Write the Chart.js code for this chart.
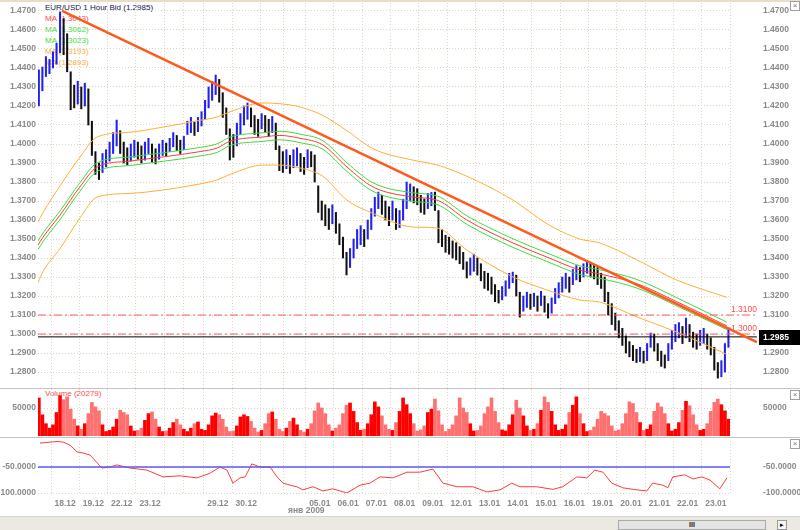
<!DOCTYPE html>
<html>
<head>
<meta charset="utf-8">
<script src="https://cdn.jsdelivr.net/npm/chart.js@4.4.0/dist/chart.umd.min.js"></script>
<style>
  body { margin: 0; background: #fff; }
  #wrap { position: relative; width: 800px; height: 530px; overflow: hidden; font-family: "Liberation Sans", Arial, sans-serif; }
  canvas { position: absolute; left: 0; }
  #main { top: 0; }
  #vol { top: 388px; }
  #osc { top: 437px; }
  #axis { top: 492px; }
  .sep { position: absolute; left: 0; width: 800px; height: 1px; background: #c4c4c4; }
  #legend { position: absolute; left: 45px; top: 2px; font-size: 8px; line-height: 11px; white-space: nowrap; }
  #volLabel { position: absolute; left: 45px; top: 389px; font-size: 8px; color: #ff4a4a; }
  .close { position: absolute; left: 790px; width: 8px; height: 8px; border: 1px solid #a0a0a0; font-size: 8px; line-height: 8px; text-align: center; color: #777; background: #fff; }
  #bottom { position: absolute; left: 0; top: 516px; width: 800px; height: 14px; background: #ebe9e1; border-top: 1px solid #d4d4d4; }
  #track { position: absolute; left: 618px; top: 3px; width: 146px; height: 8px; background: #e4e4e4; border: 1px solid #aaa; font-size: 7px; line-height: 8px; text-align: center; font-weight: bold; color: #222; }
  #btn { position: absolute; left: 777px; top: 3px; width: 8px; height: 8px; border: 1px solid #999; background: #f4f4f4; font-size: 7px; line-height: 8px; text-align: center; }
</style>
</head>
<body>
<div id="wrap">
  <div id="legend">
    <div style="color:#141450">EUR/USD 1 Hour Bid (1.2985)</div>
    <div style="color:#ff4a4a">MA (1.3043)</div>
    <div style="color:#3ddc3d">MA (1.3062)</div>
    <div style="color:#3ddc3d">MA (1.3023)</div>
    <div style="color:#ffad3c">MA (1.3193)</div>
    <div style="color:#ffad3c">MA (1.2893)</div>
  </div>
  <div id="volLabel">Volume (20279)</div>
  <canvas id="main" width="800" height="388"></canvas>
  <canvas id="vol" width="800" height="49"></canvas>
  <canvas id="osc" width="800" height="59"></canvas>
  <canvas id="axis" width="800" height="26"></canvas>
  <div class="sep" style="top:0;height:2px;background:#e6dec6"></div>
  <div class="sep" style="top:388px"></div>
  <div class="sep" style="top:437px"></div>
  <div class="close" style="top:1px">×</div>
  <div class="close" style="top:390px">×</div>
  <div class="close" style="top:439px">×</div>
  <div id="bottom"><div id="track">III</div><div id="btn">▸</div></div>
</div>
<script>
// x is measured in trading-day widths, 0 = start of 18.12
const X_MIN = -0.46, X_MAX = 24;
const barStart = -0.43;
const barStep = 0.125; // 3-hour bars

const barHigh = [
  1.4390,1.4405,1.4460,1.4445,1.4485,1.4530,1.4695,1.4660,
  1.4580,1.4380,1.4310,1.4330,1.4300,1.4320,1.4290,1.4120,
  1.3960,1.3900,1.3950,1.3970,1.4010,1.4060,1.4126,1.4070,
  1.4010,1.3980,1.4000,1.4020,1.4010,1.3990,1.4010,1.4030,
  1.4000,1.3975,1.4000,1.4020,1.4005,1.4030,1.4060,1.4045,
  1.4020,1.4040,1.4120,1.4140,1.4115,1.4140,1.4170,1.4230,
  1.4300,1.4330,1.4363,1.4340,1.4270,1.4190,1.4080,1.4050,
  1.4110,1.4160,1.4200,1.4216,1.4190,1.4150,1.4130,1.4160,
  1.4150,1.4130,1.4145,1.4110,1.3990,1.3960,1.3970,1.3940,
  1.3970,1.3980,1.3950,1.3930,1.3970,1.3960,1.3942,1.3780,
  1.3700,1.3680,1.3660,1.3680,1.3640,1.3580,1.3510,1.3430,
  1.3450,1.3500,1.3550,1.3570,1.3550,1.3600,1.3660,1.3720,
  1.3747,1.3730,1.3700,1.3670,1.3700,1.3660,1.3650,1.3710,
  1.3800,1.3790,1.3775,1.3765,1.3730,1.3710,1.3740,1.3745,
  1.3747,1.3650,1.3550,1.3520,1.3510,1.3490,1.3480,1.3460,
  1.3430,1.3380,1.3400,1.3420,1.3400,1.3370,1.3330,1.3320,
  1.3300,1.3260,1.3230,1.3250,1.3280,1.3320,1.3326,1.3310,
  1.3220,1.3200,1.3220,1.3210,1.3215,1.3200,1.3225,1.3200,
  1.3160,1.3190,1.3240,1.3270,1.3300,1.3320,1.3300,1.3340,
  1.3360,1.3350,1.3370,1.3379,1.3375,1.3365,1.3350,1.3320,
  1.3300,1.3220,1.3160,1.3110,1.3070,1.3030,1.2990,1.2960,
  1.2940,1.2920,1.2930,1.2910,1.2950,1.3005,1.3000,1.2950,
  1.2910,1.2890,1.2950,1.3020,1.3050,1.3060,1.3040,1.3084,
  1.3050,1.3010,1.3000,1.3020,1.3030,1.3000,1.2980,1.2930,
  1.2850,1.2860,1.2950,1.3032
];
const barLow = [
  1.4200,1.4280,1.4355,1.4370,1.4400,1.4420,1.4480,1.4470,
  1.4380,1.4180,1.4190,1.4210,1.4185,1.4200,1.4100,1.3940,
  1.3840,1.3813,1.3850,1.3880,1.3910,1.3950,1.3990,1.3950,
  1.3900,1.3890,1.3910,1.3930,1.3920,1.3900,1.3915,1.3950,
  1.3905,1.3895,1.3920,1.3940,1.3935,1.3960,1.3985,1.3965,
  1.3950,1.3970,1.4050,1.4060,1.4045,1.4065,1.4095,1.4130,
  1.4190,1.4230,1.4260,1.4220,1.4140,1.4050,1.3916,1.3930,
  1.3990,1.4050,1.4100,1.4130,1.4090,1.4050,1.4040,1.4080,
  1.4060,1.4040,1.4060,1.3970,1.3860,1.3850,1.3870,1.3845,
  1.3875,1.3885,1.3855,1.3840,1.3875,1.3880,1.3800,1.3640,
  1.3600,1.3570,1.3550,1.3580,1.3530,1.3470,1.3400,1.3311,
  1.3350,1.3400,1.3450,1.3470,1.3460,1.3500,1.3550,1.3620,
  1.3660,1.3630,1.3600,1.3570,1.3600,1.3550,1.3560,1.3600,
  1.3660,1.3700,1.3690,1.3680,1.3640,1.3630,1.3660,1.3675,
  1.3650,1.3480,1.3460,1.3430,1.3420,1.3400,1.3390,1.3370,
  1.3340,1.3295,1.3310,1.3330,1.3310,1.3280,1.3240,1.3230,
  1.3210,1.3170,1.3163,1.3180,1.3200,1.3240,1.3270,1.3200,
  1.3089,1.3120,1.3140,1.3130,1.3145,1.3120,1.3150,1.3115,
  1.3084,1.3110,1.3160,1.3190,1.3220,1.3240,1.3220,1.3260,
  1.3285,1.3275,1.3300,1.3320,1.3300,1.3290,1.3260,1.3240,
  1.3170,1.3100,1.3050,1.3020,1.2980,1.2940,1.2900,1.2880,
  1.2860,1.2850,1.2855,1.2847,1.2860,1.2930,1.2910,1.2860,
  1.2830,1.2821,1.2860,1.2920,1.2960,1.2980,1.2950,1.2980,
  1.2960,1.2930,1.2920,1.2940,1.2950,1.2920,1.2890,1.2810,
  1.2768,1.2775,1.2800,1.2930
];
const volume = [
  68000,38000,22000,14000,20000,42000,72000,65000,
  70000,48000,30000,18000,12000,22000,40000,60000,
  52000,45000,20000,8000,10000,16000,30000,46000,
  42000,38000,18000,9000,10000,14000,28000,40000,
  43000,30000,16000,8000,9000,14000,24000,30000,
  20000,12000,8000,14000,22000,25000,12000,10000,
  20000,36000,41000,38000,30000,16000,8000,9000,
  18000,34000,38000,35000,26000,14000,7000,10000,
  22000,40000,43000,30000,12000,8000,14000,26000,
  32000,20000,10000,7000,12000,22000,45000,59000,
  50000,40000,20000,9000,14000,20000,40000,55000,
  59000,44000,24000,10000,12000,22000,38000,61000,
  52000,36000,20000,12000,10000,24000,44000,68000,
  56000,40000,22000,9000,11000,18000,42000,48000,
  66000,45000,20000,8000,12000,20000,36000,68000,
  50000,42000,22000,9000,10000,18000,40000,52000,
  68000,44000,24000,11000,9000,20000,38000,64000,
  50000,36000,18000,10000,12000,22000,46000,70000,
  60000,44000,20000,10000,12000,20000,42000,55000,
  70000,40000,22000,8000,10000,16000,30000,44000,
  40000,36000,18000,9000,11000,22000,40000,61000,
  58000,42000,24000,10000,12000,20000,44000,59000,
  52000,40000,22000,9000,12000,24000,46000,62000,
  54000,38000,20000,10000,12000,22000,44000,60000,
  66000,56000,45000,30000
];

// moving average and its envelopes
const maT = [-0.46,-0.28,0.32,1.02,1.63,2.79,3.96,5.27,5.87,6.33,7.49,8.09,8.80,9.61,10.46,11.38,12.79,13.64,14.70,16.33,17.53,18.69,19.40,20.71,22.12,23.89];
const maMid = [1.3468,1.3510,1.3626,1.3774,1.3879,1.3910,1.3932,1.3960,1.3979,1.4015,1.4037,1.4045,1.4030,1.3995,1.3879,1.3774,1.3721,1.3705,1.3600,1.3479,1.3405,1.3337,1.3316,1.3265,1.3170,1.3043];
const maGreenHi = [1.3490,1.3532,1.3648,1.3796,1.3901,1.3932,1.3954,1.3982,1.4001,1.4037,1.4059,1.4067,1.4052,1.4017,1.3901,1.3796,1.3743,1.3727,1.3622,1.3501,1.3427,1.3359,1.3338,1.3287,1.3191,1.3062];
const maGreenLo = [1.3445,1.3487,1.3603,1.3751,1.3856,1.3887,1.3909,1.3937,1.3956,1.3992,1.4014,1.4022,1.4007,1.3972,1.3856,1.3751,1.3698,1.3682,1.3577,1.3456,1.3382,1.3314,1.3293,1.3242,1.3148,1.3023];
const maOrangeHi = [1.3590,1.3640,1.3780,1.3930,1.4037,1.4062,1.4089,1.4125,1.4142,1.4170,1.4216,1.4212,1.4195,1.4150,1.4070,1.3975,1.3915,1.3890,1.3830,1.3705,1.3580,1.3500,1.3479,1.3390,1.3284,1.3193];
const maOrangeLo = [1.3270,1.3330,1.3450,1.3610,1.3721,1.3740,1.3758,1.3790,1.3811,1.3840,1.3889,1.3889,1.3874,1.3830,1.3705,1.3635,1.3563,1.3558,1.3442,1.3300,1.3232,1.3179,1.3168,1.3090,1.3010,1.2893];

const trendT = [0.39, 24.95];
const trendVal = [1.4700, 1.2957];
const levels = [1.3100, 1.3000];
const lastPrice = 1.2985;
const lineEndT = 24.95;

// oscillator
const oscT = [-0.39,0.21,0.42,0.67,0.92,1.13,1.38,1.63,1.80,2.08,2.33,2.79,3.39,3.96,4.56,5.16,5.62,5.97,6.22,6.43,6.68,6.86,7.10,7.39,7.74,7.99,8.20,8.45,8.69,8.90,9.26,9.61,9.96,10.46,10.92,11.27,11.63,12.08,12.58,13.04,13.50,13.85,14.35,14.91,15.41,15.87,16.29,16.57,17.17,17.74,18.09,18.59,18.94,19.22,19.51,19.82,20.21,20.71,21.06,21.27,21.63,21.80,21.98,22.40,22.69,23.00,23.29,23.64,23.89];
const oscVal = [-4,-1,-2,-8,-21,-23,-27,-42,-52,-50,-46,-52,-56,-69,-67,-71,-62,-50,-56,-81,-71,-69,-44,-50,-50,-69,-81,-85,-88,-94,-88,-96,-92,-100,-85,-81,-69,-71,-60,-60,-54,-81,-88,-88,-98,-94,-81,-88,-88,-93,-88,-69,-71,-56,-60,-81,-90,-94,-96,-81,-85,-90,-69,-65,-73,-69,-75,-92,-71];
const oscLevel = -50;

// axes
const dayStarts = [0,1,2,3,4,4.7,5.4,6.4,7.4,8.2,9,10,11,12,13,14,15,16,17,18,19,20,21,22,23,24];
const dayLabels = ['18.12','19.12','22.12','23.12','29.12','30.12','05.01','06.01','07.01','08.01','09.01','12.01','13.01','14.01','15.01','16.01','19.01','20.01','21.01','22.01','23.01'];
const dayLabelPos = [0.5,1.5,2.5,3.5,5.9,6.9,9.5,10.5,11.5,12.5,13.5,14.5,15.5,16.5,17.5,18.5,19.5,20.5,21.5,22.5,23.5];
const monthText = 'янв 2009';
const monthStart = 8.2;
const priceTicks = [1.28,1.29,1.30,1.31,1.32,1.33,1.34,1.35,1.36,1.37,1.38,1.39,1.40,1.41,1.42,1.43,1.44,1.45,1.46,1.47];
const volTicks = [50000];
const oscTicks = [-50, -100];

const FONT = '"Liberation Sans", Arial, sans-serif';
const tickFont = { family: FONT, size: 8.5, weight: 'bold' };
const tickColor = '#8a8a8a';
const gridColor = '#ddd6bf';

const pts = (ts, vs) => ts.map((t, i) => ({ x: t, y: vs[i] }));
const barX = barHigh.map((_, i) => barStart + i * barStep);
const barMid = barHigh.map((h, i) => (h + barLow[i]) / 2);
const barUp = barMid.map((m, i) => i === 0 || m >= barMid[i - 1]);

function setTicks(values) {
  return s => { s.ticks = values.map(v => ({ value: v })); };
}

function gridX() {
  return {
    type: 'linear', min: X_MIN, max: X_MAX, offset: false,
    afterBuildTicks: setTicks(dayStarts),
    afterFit: s => { s.height = 0; s.paddingLeft = 0; s.paddingRight = 0; },
    ticks: { display: false },
    grid: { color: gridColor, drawTicks: false, offset: false },
    border: { display: false, dash: [1, 2] }
  };
}

function yAxis(pos, withGrid, min, max, ticks, fmt) {
  return {
    position: pos, min: min, max: max,
    afterBuildTicks: setTicks(ticks),
    afterFit: s => { s.width = pos === 'left' ? 38 : 70; s.paddingTop = 0; s.paddingBottom = 0; },
    ticks: { color: tickColor, font: tickFont, padding: pos === 'left' ? 2 : 33, callback: fmt },
    grid: { display: withGrid, color: gridColor, drawTicks: false },
    border: { display: false, dash: [1, 2] }
  };
}

function baseOptions(padding, scales) {
  return {
    responsive: false, animation: false, devicePixelRatio: 1, events: [],
    layout: { padding: padding },
    plugins: { legend: { display: false }, tooltip: { enabled: false } },
    scales: scales
  };
}

function maLine(values, color) {
  return {
    type: 'line', data: pts(maT, values), borderColor: color, borderWidth: 1,
    pointRadius: 0, cubicInterpolationMode: 'monotone', yAxisID: 'yL', order: 2
  };
}

const priceFmt = v => v.toFixed(4);

// price box and level captions at the right edge
const priceMarks = {
  id: 'priceMarks',
  afterDraw(chart) {
    const { ctx, chartArea } = chart;
    const y = chart.scales.yL;
    ctx.save();
    ctx.font = '8.5px ' + FONT;
    ctx.fillStyle = '#ff4d4d';
    ctx.textBaseline = 'bottom';
    levels.forEach(v => ctx.fillText(v.toFixed(4), chartArea.right + 1, y.getPixelForValue(v) - 1));
    const py = Math.round(y.getPixelForValue(lastPrice));
    ctx.fillStyle = '#000';
    ctx.fillRect(759, py - 7, 41, 15);
    ctx.fillStyle = '#fff';
    ctx.font = 'bold 8.5px ' + FONT;
    ctx.textBaseline = 'middle';
    ctx.fillText(lastPrice.toFixed(4), 763, py + 0.5);
    ctx.restore();
  }
};

new Chart(document.getElementById('main'), {
  type: 'bar',
  data: {
    datasets: [
      { type: 'line', data: pts(trendT, trendVal), borderColor: '#ff5a1e', borderWidth: 2.5, pointRadius: 0,
        yAxisID: 'yL', order: 0, clip: { left: 0, top: 0, right: 30, bottom: 0 } },
      ...levels.map(v => ({
        type: 'line', data: [{ x: X_MIN, y: v }, { x: lineEndT, y: v }], borderColor: '#ff5a5a', borderWidth: 1,
        borderDash: [8, 3, 2, 3], pointRadius: 0, yAxisID: 'yL', order: 1, clip: { left: 0, top: 0, right: 30, bottom: 0 }
      })),
      { type: 'line', data: [{ x: X_MIN, y: lastPrice }, { x: lineEndT, y: lastPrice }], borderColor: '#000', borderWidth: 1,
        pointRadius: 0, yAxisID: 'yL', order: 1, clip: { left: 0, top: 0, right: 30, bottom: 0 } },
      maLine(maOrangeHi, '#ffaf3a'),
      maLine(maOrangeLo, '#ffaf3a'),
      maLine(maGreenHi, '#3ddc3d'),
      maLine(maGreenLo, '#3ddc3d'),
      maLine(maMid, '#ff3a3a'),
      { type: 'bar', data: barX.map((x, i) => ({ x: x, y: [barLow[i], barHigh[i]] })),
        backgroundColor: barUp.map(u => u ? '#2020f0' : '#111111'), barThickness: 1.4, yAxisID: 'yL', order: 5 }
    ]
  },
  options: baseOptions({ top: 3, bottom: 0 }, {
    x: gridX(),
    yL: yAxis('left', true, 1.2716, 1.4742, priceTicks, priceFmt),
    yR: yAxis('right', false, 1.2716, 1.4742, priceTicks, priceFmt)
  }),
  plugins: [priceMarks]
});

new Chart(document.getElementById('vol'), {
  type: 'bar',
  data: {
    datasets: [{
      data: barX.map((x, i) => ({ x: x, y: volume[i] })),
      backgroundColor: barUp.map(u => u ? '#ff0000' : '#ff7070'), barThickness: 3, yAxisID: 'vL'
    }]
  },
  options: baseOptions({ top: 1, bottom: 1 }, {
    x: gridX(),
    vL: yAxis('left', true, 0, 84000, volTicks, v => String(v)),
    vR: yAxis('right', false, 0, 84000, volTicks, v => String(v))
  })
});

new Chart(document.getElementById('osc'), {
  type: 'line',
  data: {
    datasets: [
      { data: [{ x: X_MIN, y: oscLevel }, { x: X_MAX, y: oscLevel }], borderColor: '#5a5af0', borderWidth: 1.5, pointRadius: 0, yAxisID: 'oL' },
      { data: pts(oscT, oscVal), borderColor: '#ff3c3c', borderWidth: 1, pointRadius: 0, yAxisID: 'oL' }
    ]
  },
  options: baseOptions({ top: 4, bottom: 3 }, {
    x: gridX(),
    oL: yAxis('left', true, -100, 0, oscTicks, v => v.toFixed(4)),
    oR: yAxis('right', false, -100, 0, oscTicks, v => v.toFixed(4))
  })
});

const monthLabel = {
  id: 'monthLabel',
  afterDraw(chart) {
    const s = chart.scales.x;
    const ctx = chart.ctx;
    ctx.save();
    ctx.font = 'bold 8.5px ' + FONT;
    ctx.fillStyle = tickColor;
    ctx.textBaseline = 'middle';
    ctx.fillText(monthText, s.getPixelForValue(monthStart) + 5, s.top + 15);
    ctx.restore();
  }
};

new Chart(document.getElementById('axis'), {
  type: 'line',
  data: { datasets: [] },
  options: baseOptions({ left: 38, right: 70, top: 0, bottom: 0 }, {
    x: {
      type: 'linear', min: X_MIN, max: X_MAX, offset: false,
      afterBuildTicks: setTicks(dayLabelPos),
      afterFit: s => { s.height = 22; s.paddingLeft = 0; s.paddingRight = 0; },
      ticks: { color: tickColor, font: tickFont, padding: 3, autoSkip: false, maxRotation: 0,
               callback: (v, i) => dayLabels[i] },
      grid: { display: false, drawTicks: false },
      border: { display: false }
    },
    y: { display: false }
  }),
  plugins: [monthLabel]
});
</script>
</body>
</html>
